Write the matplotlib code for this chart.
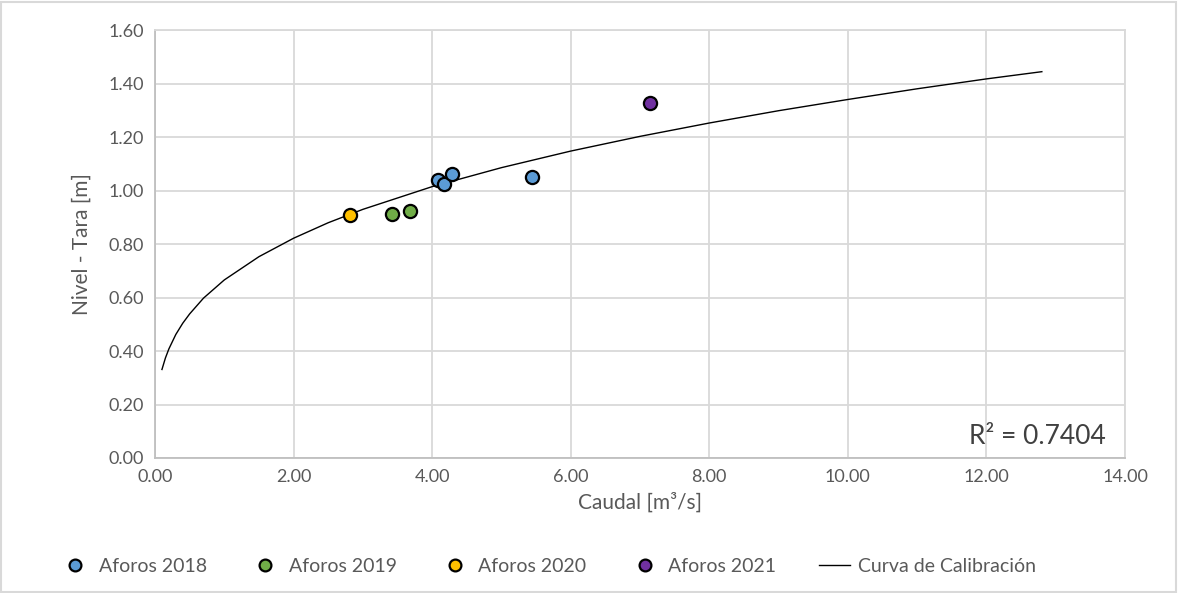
import matplotlib.pyplot as plt
from matplotlib.lines import Line2D

plt.rcParams['font.family'] = ['Lato', 'DejaVu Sans']

# measured points (caudal m3/s, nivel m)
q_2018 = [4.08, 4.17, 4.29, 5.44]
h_2018 = [1.039, 1.024, 1.063, 1.051]
q_2019 = [3.42, 3.68]
h_2019 = [0.911, 0.923]
q_2020 = [2.82]
h_2020 = [0.910]
q_2021 = [7.14]
h_2021 = [1.328]

# calibration curve
curve_q = [0.1, 0.15, 0.2, 0.3, 0.4, 0.5, 0.7, 1.0, 1.5, 2.0, 2.5, 3.0, 4.0,
           5.0, 6.0, 7.0, 8.0, 9.0, 10.0, 11.0, 12.0, 12.8]
curve_h = [0.331, 0.374, 0.408, 0.462, 0.504, 0.539, 0.598, 0.666, 0.753,
           0.822, 0.880, 0.930, 1.015, 1.086, 1.148, 1.203, 1.253, 1.299,
           1.341, 1.381, 1.418, 1.445]

grey = '#595959'
fig = plt.figure(figsize=(11.78, 5.93), dpi=100)
ax = fig.add_axes([0.1316, 0.2277, 0.8234, 0.7213])

ax.plot(curve_q, curve_h, c='black', lw=1.0, zorder=3)
pts = [(q_2018, h_2018, '#5B9BD5'), (q_2019, h_2019, '#70AD47'),
       (q_2020, h_2020, '#FFC000'), (q_2021, h_2021, '#7030A0')]
for q, h, col in pts:
    ax.scatter(q, h, s=90, c=col, edgecolors='black', linewidths=1.6, zorder=4)

ax.set_xlim(0, 14)
ax.set_ylim(0, 1.6)
ax.set_xticks(range(0, 15, 2))
ax.set_xticklabels(['%.2f' % v for v in range(0, 15, 2)])
ax.set_yticks([i * 0.2 for i in range(9)])
ax.set_yticklabels(['%.2f' % (i * 0.2) for i in range(9)])
ax.grid(True, color='#D9D9D9', lw=1.3)
ax.set_axisbelow(True)
for s in ax.spines.values():
    s.set_color('#D9D9D9')
    s.set_linewidth(1.3)
ax.spines['left'].set_color('#BFBFBF')
ax.spines['bottom'].set_color('#BFBFBF')
ax.tick_params(axis='both', length=0, labelsize=13, labelcolor=grey, pad=8)

ax.set_xlabel('Caudal [m³/s]', fontsize=15, color=grey, labelpad=5)
ax.set_ylabel('Nivel - Tara [m]', fontsize=15, color=grey, labelpad=12)

ax.text(13.72, 0.08, 'R² = 0.7404', fontsize=19, color='#404040', ha='right', va='center')

handles = [Line2D([], [], marker='o', ls='', markerfacecolor=c, markeredgecolor='black',
                  markeredgewidth=1.6, markersize=8.5) for _, _, c in pts]
handles.append(Line2D([], [], color='black', lw=1.0))
labels = ['Aforos 2018', 'Aforos 2019', 'Aforos 2020', 'Aforos 2021', 'Curva de Calibración']
fig.legend(handles, labels, loc='center', bbox_to_anchor=(0.465, 0.045), ncol=5,
           frameon=False, fontsize=14, labelcolor=grey, columnspacing=2.2,
           handlelength=1.6, handletextpad=0.4)

fig.patches.append(plt.Rectangle((0.001, 0.002), 0.997, 0.995, transform=fig.transFigure,
                                 fill=False, edgecolor='#D9D9D9', lw=1.5))

fig.savefig('out.png', dpi=100)
